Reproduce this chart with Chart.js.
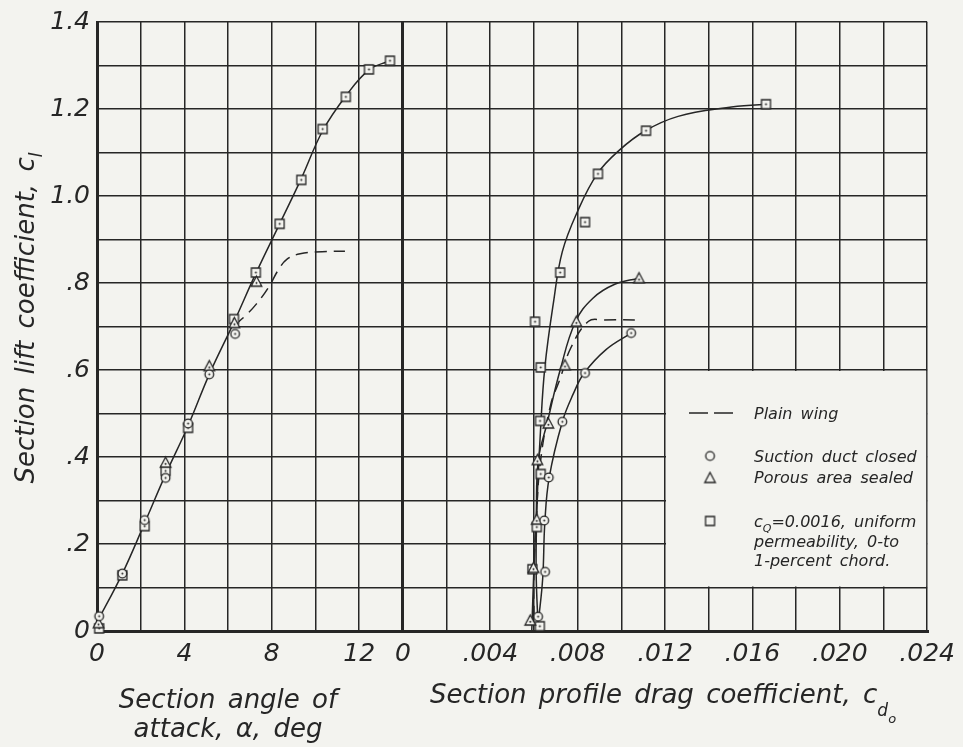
<!DOCTYPE html>
<html>
<head>
<meta charset="utf-8">
<title>Section lift, angle of attack and profile drag</title>
<script src="https://cdn.jsdelivr.net/npm/chart.js@4.4.1/dist/chart.umd.min.js"></script>
<style>
  html, body { margin: 0; padding: 0; background: #f3f3ef; }
  #wrap { width: 963px; height: 747px; }
</style>
</head>
<body>
<div id="wrap"><canvas id="liftChart" width="963" height="747"></canvas></div>
<script>
// ---- left panel: lift vs angle of attack ----
const alphaCircles = [0.10, 1.16, 2.18, 3.14, 4.17, 5.14, 6.32];
const clAlphaCircles = [0.034, 0.132, 0.255, 0.352, 0.477, 0.590, 0.683];
const alphaTriangles = [0.07, 3.14, 5.14, 6.29, 7.30];
const clAlphaTriangles = [0.018, 0.387, 0.609, 0.708, 0.803];
const alphaSquares = [0.10, 1.16, 2.18, 3.14, 4.17, 6.27, 7.27, 8.36, 9.35, 10.33, 11.39, 12.45, 13.41];
const clAlphaSquares = [0.006, 0.128, 0.241, 0.368, 0.467, 0.717, 0.824, 0.936, 1.037, 1.154, 1.228, 1.291, 1.311];

// faired curves
const alphaFaired = [0, 1.16, 2.18, 3.14, 4.17, 5.14, 6.27, 7.27, 8.36, 9.35, 10.33, 11.39, 12.45, 13.41];
const clAlphaFaired = [0.02, 0.132, 0.248, 0.360, 0.472, 0.590, 0.710, 0.822, 0.936, 1.040, 1.150, 1.230, 1.290, 1.311];
const alphaPlain = [6.30, 6.8, 7.3, 7.85, 8.3, 8.7, 9.3, 10.3, 11.35];
const clAlphaPlain = [0.703, 0.725, 0.752, 0.790, 0.830, 0.855, 0.867, 0.872, 0.873];

// ---- right panel: lift vs profile drag ----
const cdCircles = [0.00619, 0.00651, 0.00647, 0.00668, 0.00730, 0.00834, 0.01045];
const clCdCircles = [0.033, 0.136, 0.254, 0.353, 0.481, 0.593, 0.685];
const cdTriangles = [0.00583, 0.00598, 0.00613, 0.00616, 0.00666, 0.00742, 0.00794, 0.01081];
const clCdTriangles = [0.024, 0.145, 0.256, 0.393, 0.477, 0.611, 0.711, 0.811];
const cdSquares = [0.00627, 0.00593, 0.00613, 0.00631, 0.00628, 0.00631, 0.00605, 0.00720, 0.00834, 0.00893, 0.01113, 0.01662];
const clCdSquares = [0.011, 0.142, 0.239, 0.361, 0.483, 0.606, 0.711, 0.824, 0.940, 1.051, 1.150, 1.211];

const cdSqFaired = [0.0062, 0.0061, 0.00615, 0.0063, 0.0065, 0.0069, 0.0073, 0.0080, 0.0089, 0.0099, 0.0111, 0.0126, 0.0148, 0.0166];
const clSqFaired = [0.0, 0.14, 0.30, 0.46, 0.606, 0.757, 0.872, 0.965, 1.051, 1.105, 1.150, 1.183, 1.203, 1.211];
const cdTriFaired = [0.0059, 0.0060, 0.0061, 0.0062, 0.0066, 0.0072, 0.0079, 0.0087, 0.0097, 0.0108];
const clTriFaired = [0.0, 0.145, 0.256, 0.393, 0.477, 0.600, 0.711, 0.765, 0.797, 0.811];
const cdCircFaired = [0.0062, 0.0064, 0.0065, 0.0067, 0.0073, 0.0078, 0.0083, 0.0093, 0.01045];
const clCircFaired = [0.02, 0.12, 0.25, 0.353, 0.481, 0.545, 0.593, 0.647, 0.685];
const cdPlainFaired = [0.0060, 0.0060, 0.0061, 0.0063, 0.00677, 0.0072, 0.00768, 0.0085, 0.0092, 0.0109];
const clPlainFaired = [0.03, 0.14, 0.25, 0.39, 0.521, 0.58, 0.65, 0.712, 0.715, 0.715];

// ---- tick labels ----
const clTickVals = [0, 0.2, 0.4, 0.6, 0.8, 1.0, 1.2, 1.4];
const clTickLabels = ['0', '.2', '.4', '.6', '.8', '1.0', '1.2', '1.4'];
const alphaTickVals = [0, 4, 8, 12];
const alphaTickLabels = ['0', '4', '8', '12'];
const cdTickVals = [0, 0.004, 0.008, 0.012, 0.016, 0.020, 0.024];
const cdTickLabels = ['0', '.004', '.008', '.012', '.016', '.020', '.024'];

const BG = '#f3f3ef';
const INK = '#262626';
const FONT = '"DejaVu Sans", "Liberation Sans", sans-serif';

function makeMarker(kind, dot) {
  const c = document.createElement('canvas');
  c.width = 15; c.height = 15;
  const g = c.getContext('2d');
  g.lineWidth = 1.3;
  g.strokeStyle = INK;
  g.fillStyle = BG;
  g.beginPath();
  if (kind === 'circle') g.arc(7.5, 7.5, 4.3, 0, Math.PI * 2);
  else if (kind === 'square') g.rect(3, 3, 9, 9);
  else { g.moveTo(7.5, 2); g.lineTo(12.8, 12); g.lineTo(2.2, 12); g.closePath(); }
  g.fill();
  g.stroke();
  if (dot) {
    g.fillStyle = INK;
    g.beginPath();
    g.arc(7.5, kind === 'triangle' ? 8.8 : 7.5, 1, 0, Math.PI * 2);
    g.fill();
  }
  return c;
}
const mkCircle = makeMarker('circle', true);
const mkTriangle = makeMarker('triangle', true);
const mkSquare = makeMarker('square', true);
const lgCircle = makeMarker('circle', false);
const lgTriangle = makeMarker('triangle', false);
const lgSquare = makeMarker('square', false);

const pts = (xs, ys) => xs.map((x, i) => ({ x: x, y: ys[i] }));

function markerSet(xs, ys, axis, style) {
  return {
    data: pts(xs, ys), xAxisID: axis, yAxisID: 'y',
    showLine: false, pointStyle: style, pointRadius: 6, pointHoverRadius: 6,
    order: 0, clip: false
  };
}
function curveSet(xs, ys, axis, dash) {
  return {
    data: pts(xs, ys), xAxisID: axis, yAxisID: 'y',
    showLine: true, pointRadius: 0, borderColor: INK, borderWidth: 1.5,
    borderDash: dash || [], tension: 0.4, order: 1
  };
}
function pickLabel(vals, labels) {
  return v => {
    const i = vals.findIndex(t => Math.abs(t - v) < 1e-9);
    return i < 0 ? '' : labels[i];
  };
}
const tickFont = { family: FONT, size: 25, style: 'italic', weight: 300 };
const heavyAt = heavy => c => (c.tick && heavy.some(h => Math.abs(h - c.tick.value) < 1e-9)) ? 3 : 1.5;

function runText(ctx, x, y, parts, align) {
  let total = 0;
  const widths = parts.map(p => {
    ctx.font = 'italic 300 ' + p[1] + 'px ' + FONT;
    const w = ctx.measureText(p[0]).width;
    total += w;
    return w;
  });
  let cx = align === 'center' ? x - total / 2 : x;
  parts.forEach((p, i) => {
    ctx.font = 'italic 300 ' + p[1] + 'px ' + FONT;
    ctx.fillText(p[0], cx, y + (p[2] || 0));
    cx += widths[i];
  });
}

const paperPlugin = {
  id: 'paper',
  beforeDraw(chart) {
    const { ctx, width, height } = chart;
    ctx.save();
    ctx.fillStyle = BG;
    ctx.fillRect(0, 0, width, height);
    ctx.restore();
  }
};

// legend sits in a blanked block of the grid
const keyPlugin = {
  id: 'key',
  beforeDatasetsDraw(chart) {
    const { ctx } = chart;
    const xd = chart.scales.xd, y = chart.scales.y;
    const left = xd.getPixelForValue(0.012), right = xd.getPixelForValue(0.024);
    const top = y.getPixelForValue(0.6), bottom = y.getPixelForValue(0.1);
    ctx.save();
    ctx.fillStyle = BG;
    ctx.fillRect(left + 1, top + 1, right - left - 2, bottom - top - 2);

    ctx.strokeStyle = INK;
    ctx.lineWidth = 1.5;
    ctx.setLineDash([19, 6]);
    ctx.beginPath();
    ctx.moveTo(left + 24, top + 43);
    ctx.lineTo(left + 69, top + 43);
    ctx.stroke();
    ctx.setLineDash([]);

    const mx = left + 45;
    ctx.drawImage(lgCircle, mx - 7.5, top + 86 - 7.5);
    ctx.drawImage(lgTriangle, mx - 7.5, top + 108 - 7.5);
    ctx.drawImage(lgSquare, mx - 7.5, top + 151 - 7.5);

    ctx.fillStyle = INK;
    ctx.textAlign = 'left';
    ctx.textBaseline = 'alphabetic';
    ctx.wordSpacing = '3px';
    const tx = left + 89;
    runText(ctx, tx, top + 49, [['Plain wing', 16]]);
    runText(ctx, tx, top + 92, [['Suction duct closed', 16]]);
    runText(ctx, tx, top + 113, [['Porous area sealed', 16]]);
    runText(ctx, tx, top + 157, [['c', 16], ['Q', 11, 5], ['=0.0016, uniform', 16]]);
    runText(ctx, tx, top + 177, [['permeability, 0-to', 16]]);
    runText(ctx, tx, top + 196, [['1-percent chord.', 16]]);
    ctx.restore();
  }
};

const titlePlugin = {
  id: 'titles',
  afterDraw(chart) {
    const { ctx } = chart;
    ctx.save();
    ctx.fillStyle = INK;
    ctx.textBaseline = 'alphabetic';
    ctx.textAlign = 'left';
    ctx.wordSpacing = '4px';
    runText(ctx, 228, 708, [['Section angle of', 26]], 'center');
    runText(ctx, 228, 737, [['attack, \u03b1, deg', 26]], 'center');
    runText(ctx, 430, 703, [['Section profile drag coefficient, c', 26], ['d', 17, 13], ['o', 13, 20]]);
    ctx.translate(25, 318);
    ctx.rotate(-Math.PI / 2);
    runText(ctx, 0, 9, [['Section lift coefficient, c', 26], ['l', 17, 8]], 'center');
    ctx.restore();
  }
};

new Chart(document.getElementById('liftChart'), {
  type: 'scatter',
  data: {
    datasets: [
      markerSet(alphaCircles, clAlphaCircles, 'xa', mkCircle),
      markerSet(alphaTriangles, clAlphaTriangles, 'xa', mkTriangle),
      markerSet(alphaSquares, clAlphaSquares, 'xa', mkSquare),
      markerSet(cdCircles, clCdCircles, 'xd', mkCircle),
      markerSet(cdTriangles, clCdTriangles, 'xd', mkTriangle),
      markerSet(cdSquares, clCdSquares, 'xd', mkSquare),
      curveSet(alphaFaired, clAlphaFaired, 'xa'),
      curveSet(alphaPlain, clAlphaPlain, 'xa', [12, 7]),
      curveSet(cdSqFaired, clSqFaired, 'xd'),
      curveSet(cdTriFaired, clTriFaired, 'xd'),
      curveSet(cdCircFaired, clCircFaired, 'xd'),
      curveSet(cdPlainFaired, clPlainFaired, 'xd', [12, 7])
    ]
  },
  options: {
    responsive: false,
    animation: false,
    events: [],
    layout: { padding: { left: 0, right: 32, top: 19, bottom: 0 } },
    plugins: {
      legend: { display: false },
      tooltip: { enabled: false }
    },
    scales: {
      xa: {
        type: 'linear', position: 'bottom', stack: 'bottom', stackWeight: 7,
        min: 0, max: 14,
        ticks: { stepSize: 2, autoSkip: false, maxRotation: 0, minRotation: 0, padding: 8,
                 color: INK, font: tickFont, callback: pickLabel(alphaTickVals, alphaTickLabels) },
        grid: { color: INK, lineWidth: heavyAt([0, 14]), drawTicks: false },
        border: { color: INK, width: 3 },
        afterFit: s => { s.height = 116; }
      },
      xd: {
        type: 'linear', position: 'bottom', stack: 'bottom', stackWeight: 12,
        min: 0, max: 0.024,
        ticks: { stepSize: 0.002, autoSkip: false, maxRotation: 0, minRotation: 0, padding: 8,
                 color: INK, font: tickFont, callback: pickLabel(cdTickVals, cdTickLabels) },
        grid: { color: INK, lineWidth: heavyAt([0]), drawTicks: false },
        border: { color: INK, width: 3 },
        afterFit: s => { s.height = 116; }
      },
      y: {
        type: 'linear', position: 'left', min: 0, max: 1.4,
        ticks: { stepSize: 0.1, autoSkip: false, padding: 7,
                 color: INK, font: tickFont, callback: pickLabel(clTickVals, clTickLabels) },
        grid: { color: INK, lineWidth: heavyAt([0]), drawTicks: false },
        border: { color: INK, width: 3 },
        afterFit: s => { s.width = 97; }
      }
    }
  },
  plugins: [paperPlugin, keyPlugin, titlePlugin]
});
</script>
</body>
</html>
